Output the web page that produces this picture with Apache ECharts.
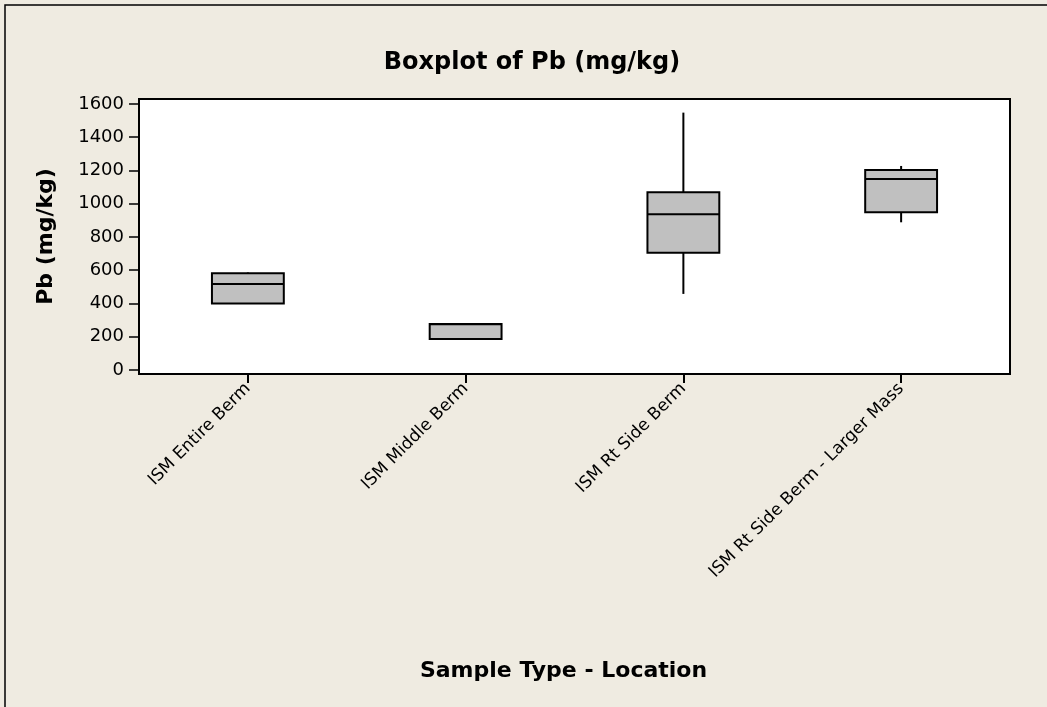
<!DOCTYPE html>
<html>
<head>
<meta charset="utf-8">
<title>Boxplot of Pb (mg/kg)</title>
<script src="https://cdn.jsdelivr.net/npm/echarts@6/dist/echarts.min.js"></script>
<style>
  html, body { margin: 0; padding: 0; background: #EFEBE1; }
  #chart { width: 1047px; height: 707px; }
</style>
</head>
<body>
<div id="chart"></div>
<script>
// Sample locations along the x axis
const categories = [
  'ISM Entire Berm',
  'ISM Middle Berm',
  'ISM Rt Side Berm',
  'ISM Rt Side Berm - Larger Mass'
];

// Five-number summaries per location: [min, Q1, median, Q3, max] in mg/kg
const entireBerm   = [399, 400, 517, 582, 586];
const middleBerm   = [186, 186, 275, 276, 279];
const rtSideBerm   = [457, 704, 937, 1069, 1548];
const rtSideLarger = [888, 948, 1149, 1203, 1227];

// Y axis tick labels
const yTicks = [0, 200, 400, 600, 800, 1000, 1200, 1400, 1600];

const summaries = [entireBerm, middleBerm, rtSideBerm, rtSideLarger];
// Rows for the custom series: [category index, min, Q1, median, Q3, max]
const boxRows = summaries.map((s, i) => [i].concat(s));

const FONT = 'DejaVu Sans';
const BOX_FRACTION = 0.33;   // box width as a share of the category band

// Box with whiskers (no caps), drawn through the axis scales
function renderBox(params, api) {
  const idx = api.value(0);
  const band = api.size([1, 0])[0];
  const half = band * BOX_FRACTION / 2;
  const pMin = api.coord([idx, api.value(1)]);
  const pQ1  = api.coord([idx, api.value(2)]);
  const pMed = api.coord([idx, api.value(3)]);
  const pQ3  = api.coord([idx, api.value(4)]);
  const pMax = api.coord([idx, api.value(5)]);
  const cx = pMed[0];
  const lineStyle = { stroke: '#000', lineWidth: 2, fill: null };
  return {
    type: 'group',
    children: [
      { type: 'line', shape: { x1: cx, y1: pMax[1], x2: cx, y2: pQ3[1] }, style: lineStyle },
      { type: 'line', shape: { x1: cx, y1: pQ1[1], x2: cx, y2: pMin[1] }, style: lineStyle },
      {
        type: 'rect',
        shape: { x: cx - half, y: pQ3[1], width: half * 2, height: pQ1[1] - pQ3[1] },
        style: { fill: '#C0C0C0', stroke: '#000', lineWidth: 2 }
      },
      { type: 'line', shape: { x1: cx - half, y1: pMed[1], x2: cx + half, y2: pMed[1] }, style: lineStyle }
    ]
  };
}

const chart = echarts.init(document.getElementById('chart'));

chart.setOption({
  backgroundColor: '#EFEBE1',
  animation: false,
  textStyle: { fontFamily: FONT },
  title: {
    text: 'Boxplot of Pb (mg/kg)',
    left: 527,
    top: 46,
    textAlign: 'center',
    textStyle: { fontFamily: FONT, fontSize: 24, fontWeight: 'bold', color: '#000' }
  },
  graphic: [
    {
      type: 'rect',
      shape: { x: 5, y: 5, width: 1200, height: 900 },
      style: { fill: 'none', stroke: '#000', lineWidth: 1.5 },
      silent: true,
      z: -1
    }
  ],
  grid: {
    left: 139,
    right: 37,
    top: 99,
    bottom: 333,
    show: true,
    backgroundColor: '#FFFFFF',
    borderColor: '#000',
    borderWidth: 2
  },
  xAxis: {
    type: 'category',
    data: categories,
    boundaryGap: true,
    name: 'Sample Type - Location',
    nameLocation: 'middle',
    nameGap: 286,
    nameTextStyle: {
      fontFamily: FONT, fontSize: 22, fontWeight: 'bold', color: '#000',
      padding: [0, 22, 0, 0]
    },
    axisLine: { show: true, onZero: false, lineStyle: { color: '#000', width: 2 } },
    axisTick: { show: true, alignWithLabel: true, length: 9, lineStyle: { color: '#000', width: 2 } },
    axisLabel: {
      rotate: 45,
      margin: 12,
      fontSize: 17,
      color: '#000',
      fontFamily: FONT
    },
    splitLine: { show: false }
  },
  yAxis: {
    type: 'value',
    min: -25,
    max: 1630,
    name: 'Pb (mg/kg)',
    nameLocation: 'middle',
    nameGap: 82,
    nameTextStyle: { fontFamily: FONT, fontSize: 22, fontWeight: 'bold', color: '#000' },
    axisLine: { show: true, onZero: false, lineStyle: { color: '#000', width: 2 } },
    axisTick: {
      show: true,
      length: 10,
      customValues: yTicks,
      lineStyle: { color: '#000', width: 1.5 }
    },
    axisLabel: {
      customValues: yTicks,
      formatter: v => String(v),
      margin: 15,
      fontSize: 18,
      color: '#000',
      fontFamily: FONT
    },
    splitLine: { show: false }
  },
  series: [
    {
      type: 'custom',
      renderItem: renderBox,
      data: boxRows,
      encode: { x: 0, y: [1, 2, 3, 4, 5] },
      z: 3
    }
  ]
});
</script>
</body>
</html>
